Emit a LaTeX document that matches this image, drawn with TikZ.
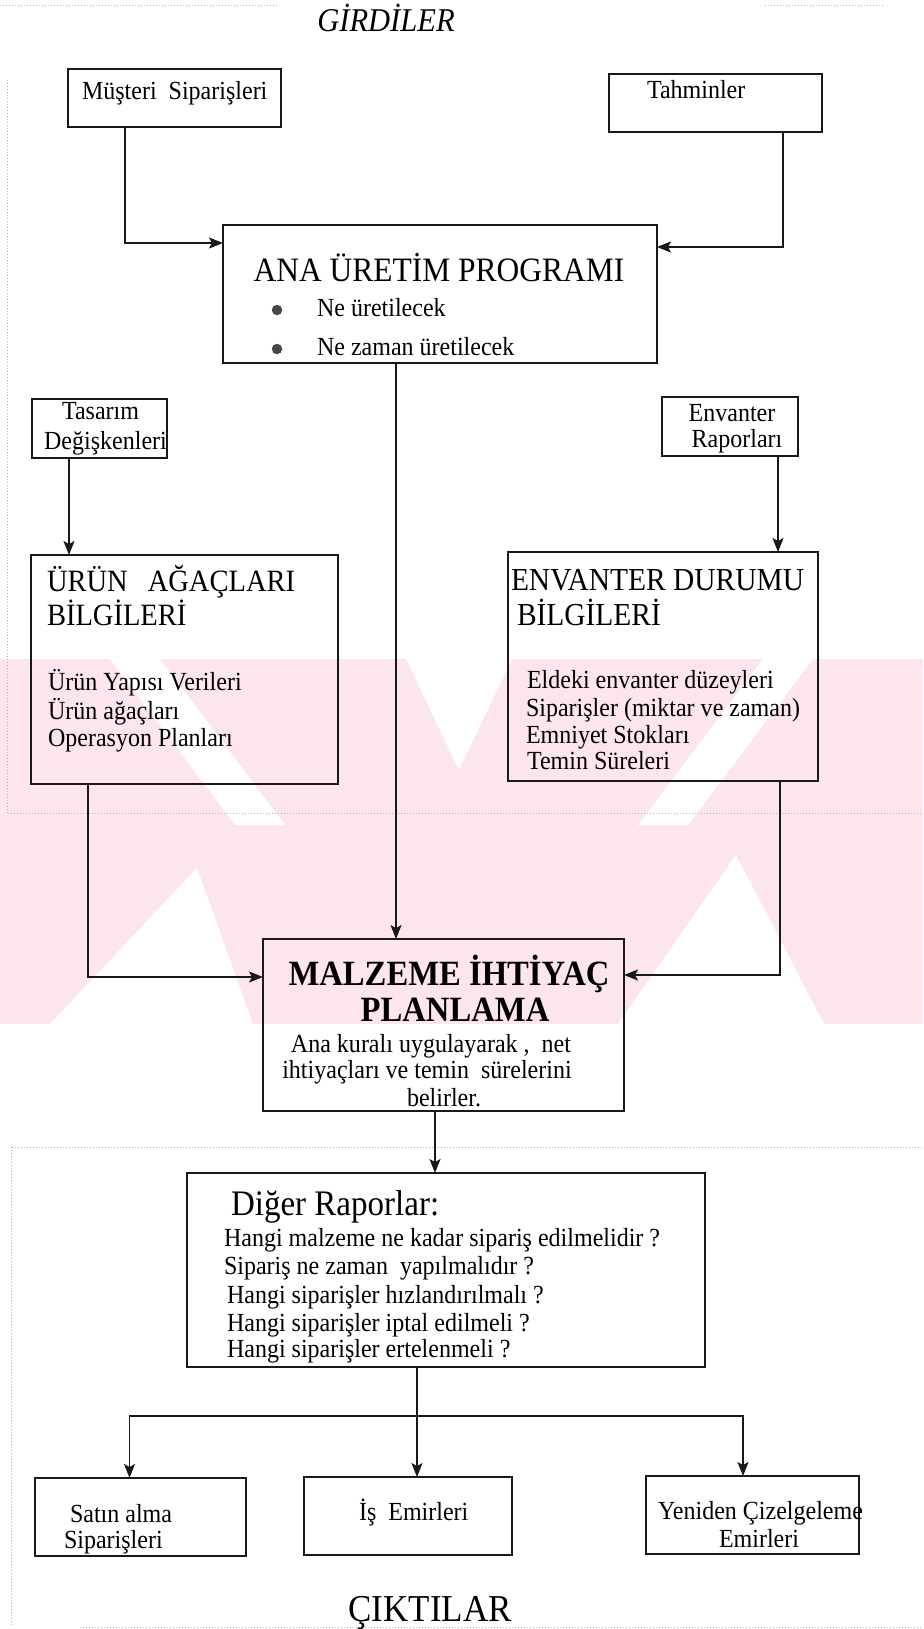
\documentclass[tikz,border=0pt]{standalone}
\usepackage{fontspec}
\setmainfont{Liberation Serif}[FakeStretch=0.92]
\usetikzlibrary{calc,arrows.meta}
\definecolor{wmpink}{RGB}{252,230,235}
\begin{document}
\begin{tikzpicture}[x=1pt,y=-1pt,
  box/.style={draw=black!90, line width=1.6pt, inner sep=0pt, outer sep=0pt},
  t/.style={inner sep=0pt, outer sep=0pt, font=\fontsize{26.1}{30}\selectfont},
  boxtitle/.style={t, font=\fontsize{#1}{#1}\selectfont},
  dot/.style={circle, fill=black!72, inner sep=0pt, minimum size=10.5pt},
  link/.style={draw=black!90, line width=1.3pt},
  arr/.style={link, -{Stealth[length=14pt,width=11pt,inset=3pt]}},
  scanline/.style={draw=black!30, line width=0.6pt, dash pattern=on 1pt off 2pt}
]
% page
\fill[white] (0,0) rectangle (923,1629);
\useasboundingbox (0,0) rectangle (923,1629);

% pale background emblem
\fill[wmpink] (0,659) rectangle (923,1024);
\fill[white] (110,659) -- (160,659) -- (285,825) -- (235,825) -- cycle;
\fill[white] (197,868) -- (50,1024) -- (253,1024) -- cycle;
\fill[white] (406,659) -- (512,659) -- (459,770) -- cycle;
\fill[white] (763,659) -- (813,659) -- (688,825) -- (638,825) -- cycle;
\fill[white] (736,855) -- (618,1024) -- (824,1024) -- cycle;

% page-edge rules
\draw[scanline] (0,5) -- (277,5);
\draw[scanline] (765,5) -- (883,5);
\draw[scanline] (7,80) -- (7,813);
\draw[scanline] (8,813) -- (923,813);
\draw[scanline] (12,1147) -- (923,1147);
\draw[scanline] (11,1147) -- (11,1627);
\draw[scanline] (80,1627) -- (923,1627);

% headings
\node[t, font=\itshape\fontsize{33.2}{34}\selectfont, anchor=base] (girdi) at (386,32) {GİRDİLER};
\node[t, font=\fontsize{38}{38}\selectfont, anchor=base] (cikti) at (430,1621) {ÇIKTILAR};

% boxes
\node[box, minimum width=213pt, minimum height=58pt] (mus) at (174.5,98) {};
\node[box, minimum width=213pt, minimum height=58pt] (tah) at (715.5,103) {};
\node[box, minimum width=434pt, minimum height=138pt] (ana) at (440,294) {};
\node[box, minimum width=135pt, minimum height=59pt] (tas) at (99.5,428.5) {};
\node[box, minimum width=136pt, minimum height=59pt] (envr) at (730,426.5) {};
\node[box, minimum width=307pt, minimum height=229pt] (urun) at (184.5,669.5) {};
\node[box, minimum width=310pt, minimum height=229pt] (envd) at (663,666.5) {};
\node[box, minimum width=361pt, minimum height=172pt] (malz) at (443.5,1025) {};
\node[box, minimum width=518pt, minimum height=194pt] (dig) at (446,1270) {};
\node[box, minimum width=211pt, minimum height=78pt] (sat) at (140.5,1517) {};
\node[box, minimum width=208pt, minimum height=78pt] (is) at (408,1516) {};
\node[box, minimum width=213pt, minimum height=78pt] (yen) at (752.5,1515) {};

% box texts
\node[t, anchor=base west] (musT) at (82,100) {Müşteri\ \ Siparişleri};
\node[t, anchor=base west] (tahT) at (647,99) {Tahminler};

\node[boxtitle=34.2, anchor=base] (anaT) at (439,281) {ANA ÜRETİM PROGRAMI};
\node[dot] (b1) at (277,310) {};
\node[dot] (b2) at (277,349) {};
\node[t, anchor=base west] (ana1) at (317,316) {Ne üretilecek};
\node[t, anchor=base west] (ana2) at (317,355) {Ne zaman üretilecek};

\node[t, anchor=base] (tas1) at (100.5,419) {Tasarım};
\node[t, anchor=base] (tas2) at (105.5,449) {Değişkenleri};
\node[t, anchor=base] (envr1) at (732,421) {Envanter};
\node[t, anchor=base] (envr2) at (737,447) {Raporları};

\node[boxtitle=31, anchor=base west] (urunT1) at (47,591) {ÜRÜN\hspace{20pt}AĞAÇLARI};
\node[boxtitle=31, anchor=base west] (urunT2) at (47,625) {BİLGİLERİ};
\node[t, anchor=base west] (urun1) at (48,690) {Ürün Yapısı Verileri};
\node[t, anchor=base west] (urun2) at (48,719) {Ürün ağaçları};
\node[t, anchor=base west] (urun3) at (48,746) {Operasyon Planları};

\node[boxtitle=32, anchor=base west] (envdT1) at (511,590) {ENVANTER DURUMU};
\node[boxtitle=32, anchor=base west] (envdT2) at (517,625) {BİLGİLERİ};
\node[t, anchor=base west] (envd1) at (527,688) {Eldeki envanter düzeyleri};
\node[t, anchor=base west] (envd2) at (526,716) {Siparişler (miktar ve zaman)};
\node[t, anchor=base west] (envd3) at (526,743) {Emniyet Stokları};
\node[t, anchor=base west] (envd4) at (527,769) {Temin Süreleri};

\node[t, font=\bfseries\fontsize{35.5}{36}\selectfont, anchor=base] (malzT1) at (449,985) {MALZEME İHTİYAÇ};
\node[t, font=\bfseries\fontsize{35.5}{36}\selectfont, anchor=base] (malzT2) at (455,1021) {PLANLAMA};
\node[t, anchor=base] (malz1) at (431,1052) {Ana kuralı uygulayarak ,\ \ net};
\node[t, anchor=base] (malz2) at (427,1078) {ihtiyaçları ve temin\ \ sürelerini};
\node[t, anchor=base] (malz3) at (444,1106) {belirler.};

\node[boxtitle=35.9, anchor=base west] (digT) at (231,1215) {Diğer Raporlar:};
\node[t, anchor=base west] (dig1) at (224,1246) {Hangi malzeme ne kadar sipariş edilmelidir ?};
\node[t, anchor=base west] (dig2) at (224,1274) {Sipariş ne zaman\ \ yapılmalıdır ?};
\node[t, anchor=base west] (dig3) at (227,1303) {Hangi siparişler hızlandırılmalı ?};
\node[t, anchor=base west] (dig4) at (227,1331) {Hangi siparişler iptal edilmeli ?};
\node[t, anchor=base west] (dig5) at (227,1357) {Hangi siparişler ertelenmeli ?};

\node[t, anchor=base west] (sat1) at (70,1522) {Satın alma};
\node[t, anchor=base west] (sat2) at (64,1548) {Siparişleri};
\node[t, anchor=base west] (is1) at (359,1520) {İş\ \ Emirleri};
\node[t, anchor=base west] (yen1) at (658,1519) {Yeniden Çizelgeleme};
\node[t, anchor=base west] (yen2) at (719,1547) {Emirleri};

% connectors
\draw[arr] ($(mus.south west)+(57,0)$) |- ($(ana.north west)+(0,18)$);
\draw[arr] ($(tah.south west)+(174,0)$) |- ($(ana.north east)+(0,22)$);
\draw[arr] ($(ana.south west)+(173,0)$) -- ($(malz.north west)+(133,0)$);
\draw[arr] ($(tas.south west)+(37,0)$) -- ($(urun.north west)+(38,0)$);
\draw[arr] ($(envr.south west)+(116,0)$) -- ($(envd.north west)+(270,0)$);
\draw[arr] ($(urun.south west)+(57,0)$) |- ($(malz.north west)+(0,38)$);
\draw[arr] ($(envd.south west)+(272,0)$) |- ($(malz.north east)+(0,36)$);
\draw[arr] ($(malz.south west)+(172,0)$) -- ($(dig.north west)+(248,0)$);
\coordinate (split) at ($(dig.south west)+(230,49)$);
\draw[link] ($(dig.south west)+(230,0)$) -- (split);
\draw[arr] (split) -| ($(sat.north west)+(94.5,0)$);
\draw[arr] (split) -- ($(is.north west)+(113,0)$);
\draw[arr] (split) -| ($(yen.north west)+(97,0)$);
\end{tikzpicture}
\end{document}
